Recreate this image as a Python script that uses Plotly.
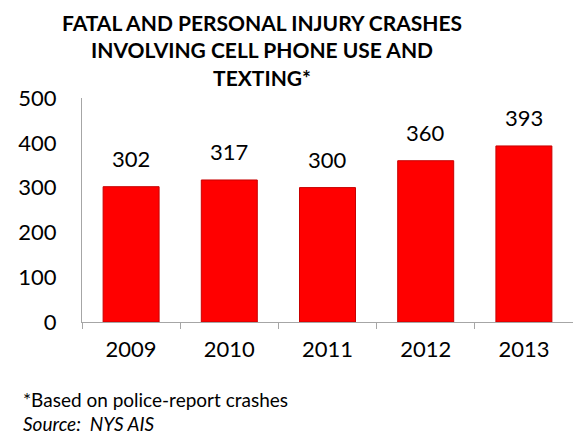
import plotly.graph_objects as go

years = ["2009", "2010", "2011", "2012", "2013"]
crashes = [302, 317, 300, 360, 393]
y_ticks = [0, 100, 200, 300, 400, 500]

FONT = "Lato, 'Open Sans', sans-serif"

fig = go.Figure()
fig.add_trace(go.Bar(
    x=years, y=crashes,
    marker=dict(color="#FF0000", line=dict(color="#C80000", width=1)),
    width=0.57,
    text=[str(v) for v in crashes],
    textposition="none",
    hoverinfo="x+y",
))

for i, v in enumerate(crashes):
    fig.add_annotation(x=i, y=v, text=str(v), showarrow=False,
                       yanchor="bottom", yshift=13,
                       font=dict(family=FONT, size=22, color="#000000"))

fig.add_annotation(xref="paper", yref="paper", x=0.366, y=1.0, yshift=6,
                   xanchor="center", yanchor="bottom",
                   text="<b>FATAL AND PERSONAL INJURY CRASHES<br>INVOLVING CELL PHONE USE AND<br>TEXTING*</b>",
                   showarrow=False, align="center",
                   font=dict(family=FONT, size=21, color="#000000"))

fig.add_annotation(xref="paper", yref="paper", x=-0.125, y=-0.345,
                   xanchor="left", yanchor="middle", align="left",
                   text="*Based on police-report crashes", showarrow=False,
                   font=dict(family=FONT, size=19, color="#000000"))
fig.add_annotation(xref="paper", yref="paper", x=-0.125, y=-0.452,
                   xanchor="left", yanchor="middle", align="left",
                   text="<i>Source:  NYS AIS</i>", showarrow=False,
                   font=dict(family=FONT, size=19, color="#000000"))

fig.update_layout(
    width=573, height=441,
    margin=dict(l=82, r=0, t=98, b=119),
    plot_bgcolor="white", paper_bgcolor="white",
    showlegend=False,
    font=dict(family=FONT, size=22, color="#000000"),
)
fig.update_xaxes(type="category", range=[-0.5, len(years) - 0.5],
                 showline=True, linecolor="#A6A6A6", linewidth=1,
                 ticks="outside", tickson="boundaries", ticklen=6,
                 tickcolor="#A6A6A6", showgrid=False,
                 ticklabelstandoff=8,
                 tickfont=dict(family=FONT, size=22))
fig.update_yaxes(range=[0, 500], tickvals=y_ticks, showline=True,
                 linecolor="#A6A6A6", linewidth=1, showgrid=False,
                 zeroline=False, ticks="", ticklabelstandoff=20,
                 tickfont=dict(family=FONT, size=22))

fig.write_html("out.html", config={"displayModeBar": False},
               post_script="document.body.style.margin='0';")
